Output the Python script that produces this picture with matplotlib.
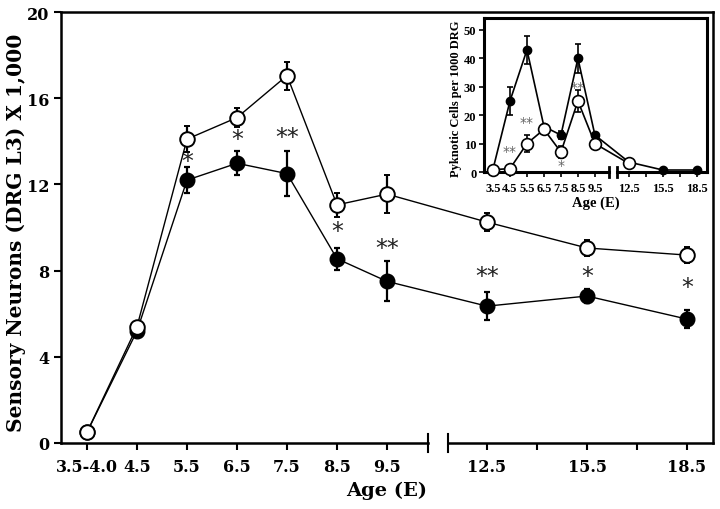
import matplotlib
matplotlib.use("Agg")
import matplotlib.pyplot as plt

# ---- data (main panel: sensory neurons, x 1,000) ----
ages = [3.5, 4.5, 5.5, 6.5, 7.5, 8.5, 9.5, 12.5, 15.5, 18.5]
age_labels = ["3.5-4.0", "4.5", "5.5", "6.5", "7.5", "8.5", "9.5", "12.5", "15.5", "18.5"]

open_vals = [0.5, 5.4, 14.1, 15.1, 17.05, 11.05, 11.55, 10.25, 9.05, 8.72]
open_err = [0, 0, 0.6, 0.43, 0.65, 0.57, 0.88, 0.42, 0.35, 0.39]
filled_vals = [0.5, 5.2, 12.2, 12.98, 12.5, 8.55, 7.5, 6.35, 6.82, 5.75]
filled_err = [0, 0, 0.62, 0.56, 1.04, 0.5, 0.93, 0.65, 0.34, 0.42]

# significance marks: (age, y, text)
star_ages = [5.5, 6.5, 7.5, 8.5, 9.5, 12.5, 15.5, 18.5]
star_y = [13.1, 14.1, 14.2, 9.85, 9.05, 7.76, 7.76, 7.22]
star_txt = ["*", "*", "**", "*", "**", "**", "*", "*"]

# ---- data (inset: pyknotic cells per 1000 DRG) ----
in_ages = [3.5, 4.5, 5.5, 6.5, 7.5, 8.5, 9.5, 12.5, 15.5, 18.5]
in_filled = [1, 25, 43, 16, 13, 40, 13, 3.5, 0.7, 0.7]
in_filled_err = [0, 5, 5, 0, 1.5, 5, 0, 0, 0, 0]
in_open_ages = [3.5, 4.5, 5.5, 6.5, 7.5, 8.5, 9.5, 12.5]
in_open = [0.8, 1.2, 10, 15, 7, 25, 10, 3]
in_open_err = [0, 0, 3, 0, 2, 4, 0, 0]
in_star_ages = [4.5, 5.5, 7.5, 8.5]
in_star_y = [7.5, 17.5, 2.5, 30]
in_star_txt = ["**", "**", "*", "**"]


def bx(a):
    # broken age axis: 1 unit per day up to 9.5, then 2 units per 3 days
    return a - 3.5 if a <= 9.5 else 8 + (a - 12.5) * 2 / 3


fig = plt.figure(figsize=(7.2, 5.1), dpi=100)
ax = fig.add_axes([61 / 720, 66 / 510, 652 / 720, 431 / 510])

xs = [bx(a) for a in ages]
ax.errorbar(xs, filled_vals, yerr=filled_err, fmt="-o", color="black", ms=10.5,
            lw=1.0, elinewidth=1.6, capsize=2.2, capthick=1.6, zorder=3)
ax.errorbar(xs, open_vals, yerr=open_err, fmt="-o", color="black", mfc="white",
            mec="black", mew=1.4, ms=10.5, lw=1.0, elinewidth=1.6, capsize=2.2,
            capthick=1.6, zorder=4)
for a, y, t in zip(star_ages, star_y, star_txt):
    ax.text(bx(a), y, t, ha="center", va="center", fontsize=17,
            family="DejaVu Sans", color="#222222")

ax.set_xlim(-0.52, 12.52)
ax.set_ylim(0, 20)
ax.set_yticks([0, 4, 8, 12, 16, 20])
ax.set_xticks(xs)
ax.set_xticklabels(age_labels)
ax.set_xticks([bx(14), bx(17)], minor=True)
for lab in ax.get_xticklabels() + ax.get_yticklabels():
    lab.set_family("DejaVu Serif")
    lab.set_fontweight("bold")
    lab.set_fontsize(11.5)
ax.tick_params(axis="both", which="both", direction="out", length=5, width=1.5)
ax.tick_params(axis="x", pad=6)
for s in ax.spines.values():
    s.set_linewidth(1.8)
ax.spines["bottom"].set_visible(False)
tr = ax.get_xaxis_transform()
ax.plot([-0.52, 6.82], [0, 0], color="black", lw=1.8, transform=tr, clip_on=False)
ax.plot([7.22, 12.52], [0, 0], color="black", lw=1.8, transform=tr, clip_on=False)
for b in [6.82, 7.22]:
    ax.plot([b, b], [-0.022, 0.022], color="black", lw=1.5, transform=tr, clip_on=False)

ax.set_ylabel("Sensory Neurons (DRG L3) X 1,000", family="DejaVu Serif",
              fontweight="bold", fontsize=14.5)
ax.yaxis.set_label_coords(-0.053, 0.49)
ax.set_xlabel("Age (E)", family="DejaVu Serif", fontweight="bold", fontsize=14)
ax.xaxis.set_label_coords(0.5, -0.088)

# ---- inset ----
ia = fig.add_axes([484 / 720, 337 / 510, 223 / 720, 154 / 510])
ia.errorbar([bx(a) for a in in_ages], in_filled, yerr=in_filled_err, fmt="-o",
            color="black", ms=6, lw=1.2, elinewidth=1.2, capsize=2, capthick=1.2,
            zorder=3, clip_on=False)
ia.errorbar([bx(a) for a in in_open_ages], in_open, yerr=in_open_err, fmt="-o",
            color="black", mfc="white", mec="black", mew=1.2, ms=8.5, lw=1.2,
            elinewidth=1.2, capsize=2, capthick=1.2, zorder=4, clip_on=False)
for a, y, t in zip(in_star_ages, in_star_y, in_star_txt):
    ia.text(bx(a), y, t, ha="center", va="center", fontsize=10,
            family="DejaVu Sans", color="#666666")

ia.set_xlim(-0.53, 12.6)
ia.set_ylim(0, 54.2)
ia.set_yticks([0, 10, 20, 30, 40, 50])
ia.set_xticks([bx(a) for a in in_ages])
ia.set_xticklabels([str(a) for a in in_ages])
ia.set_xticks([bx(14), bx(17)], minor=True)
for lab in ia.get_xticklabels() + ia.get_yticklabels():
    lab.set_family("Liberation Serif")
    lab.set_fontweight("bold")
    lab.set_fontsize(9)
ia.tick_params(axis="both", which="both", direction="out", length=3.5, width=1.2, pad=2)
ia.tick_params(axis="x", pad=4)
for s in ia.spines.values():
    s.set_linewidth(2.2)
ia.spines["bottom"].set_visible(False)
itr = ia.get_xaxis_transform()
ia.plot([-0.53, 6.82], [0, 0], color="black", lw=2.2, transform=itr, clip_on=False)
ia.plot([7.29, 12.6], [0, 0], color="black", lw=2.2, transform=itr, clip_on=False)
for b in [6.82, 7.29]:
    ia.plot([b, b], [-0.035, 0.035], color="black", lw=2, transform=itr, clip_on=False)
ia.set_ylabel("Pyknotic Cells per 1000 DRG", family="Liberation Serif",
              fontweight="bold", fontsize=9)
ia.yaxis.set_label_coords(-0.10, 0.48)
ia.set_xlabel("Age (E)", family="Liberation Serif", fontweight="bold", fontsize=10.5)
ia.xaxis.set_label_coords(0.5, -0.15)

fig.savefig("out.png", dpi=100)
